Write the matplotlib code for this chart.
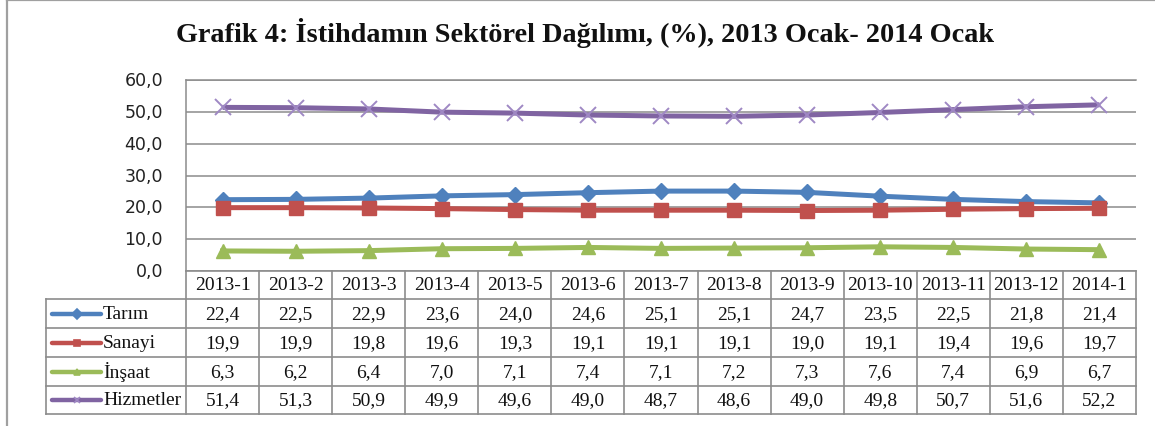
import matplotlib
matplotlib.use("Agg")
import matplotlib.pyplot as plt
from matplotlib.lines import Line2D
import matplotlib.transforms as mtransforms

categories = ["2013-1", "2013-2", "2013-3", "2013-4", "2013-5", "2013-6", "2013-7",
              "2013-8", "2013-9", "2013-10", "2013-11", "2013-12", "2014-1"]
series_names = ["Tarım", "Sanayi", "İnşaat", "Hizmetler"]
tarim = [22.4, 22.5, 22.9, 23.6, 24.0, 24.6, 25.1, 25.1, 24.7, 23.5, 22.5, 21.8, 21.4]
sanayi = [19.9, 19.9, 19.8, 19.6, 19.3, 19.1, 19.1, 19.1, 19.0, 19.1, 19.4, 19.6, 19.7]
insaat = [6.3, 6.2, 6.4, 7.0, 7.1, 7.4, 7.1, 7.2, 7.3, 7.6, 7.4, 6.9, 6.7]
hizmetler = [51.4, 51.3, 50.9, 49.9, 49.6, 49.0, 48.7, 48.6, 49.0, 49.8, 50.7, 51.6, 52.2]
y_ticks = [0, 10, 20, 30, 40, 50, 60]
title = "Grafik 4: İstihdamın Sektörel Dağılımı, (%), 2013 Ocak- 2014 Ocak"

series = [tarim, sanayi, insaat, hizmetler]
colors = ["#4F81BD", "#C0504D", "#9BBB59", "#8064A2"]
markers = ["D", "s", "^", "x"]
msizes = [8.5, 10, 10, 11]

W, H = 1155, 427
fig = plt.figure(figsize=(W / 100, H / 100), dpi=100)

def fx(x):
    return x / W

def fy(y):
    return 1 - y / H

# plot area
L, R, T, B = 186, 1136, 81, 272
ax = fig.add_axes([fx(L), fy(B), fx(R) - fx(L), fy(T) - fy(B)])
n = len(categories)
x = list(range(n))
ax.set_xlim(-0.5, n - 0.5)
ax.set_ylim(0, 60)
ax.set_yticks(y_ticks)
ax.set_yticklabels([])
ax.set_xticks([])
ax.tick_params(length=0)
grid_c = "#8C8C8C"
for v in y_ticks:
    ax.axhline(v, color=grid_c, lw=1.1, zorder=1)
for s in ["right", "bottom"]:
    ax.spines[s].set_visible(False)
ax.spines["left"].set_color(grid_c)
ax.spines["left"].set_linewidth(1.1)
ax.spines["top"].set_color(grid_c)
ax.spines["top"].set_linewidth(1.1)

for vals, c, m, ms in zip(series, colors, markers, msizes):
    if m == "x":
        ax.plot(x, vals, color=c, lw=3.6, zorder=3, solid_capstyle="butt")
        ax.plot(x, vals, ls="none", marker="x", ms=ms, mew=1.4, color="#9F88C4", zorder=4)
    else:
        ax.plot(x, vals, color=c, lw=3.6, marker=m, ms=ms, mec=c, mfc=c, zorder=3)

# y tick labels
for v in y_ticks:
    yp = ax.transData.transform((0, v))[1]
    fig.text(fx(163), yp / H, f"{v:.1f}".replace(".", ","), ha="right", va="center",
             fontsize=12.5, family="DejaVu Sans", color="#222222")

# title
fig.text(fx(585), fy(42), title, ha="center", va="baseline", fontsize=20.3,
         fontweight="bold", family="Liberation Serif", color="#111111")

# outer frame
fig.add_artist(Line2D([fx(7), fx(7)], [0, fy(1)], color="#A0A0A0", lw=1.6))
fig.add_artist(Line2D([fx(7), 1], [fy(1), fy(1)], color="#A0A0A0", lw=1.6))

# table
rows = [272, 300, 329, 358, 387, 415]
TL = 46
tc = "#8C8C8C"
tlw = 1.2
# horizontal lines
fig.add_artist(Line2D([fx(L), fx(R)], [fy(rows[0])] * 2, color=tc, lw=tlw))
for r in rows[1:]:
    fig.add_artist(Line2D([fx(TL), fx(R)], [fy(r)] * 2, color=tc, lw=tlw))
# vertical lines
blend = mtransforms.blended_transform_factory(ax.transData, fig.transFigure)
for i in range(n + 1):
    xd = i - 0.5
    fig.add_artist(Line2D([xd, xd], [fy(rows[0]), fy(rows[-1])], color=tc, lw=tlw,
                          transform=blend))
fig.add_artist(Line2D([fx(TL), fx(TL)], [fy(rows[1]), fy(rows[-1])], color=tc, lw=tlw))

tfont = dict(family="Liberation Serif", fontsize=14, color="#111111")
# header
yc = (rows[0] + rows[1]) / 2
for i, c in enumerate(categories):
    fig.text(i, fy(yc), c, ha="center", va="center", transform=blend, **tfont)
# body
for k, (name, vals, c, m) in enumerate(zip(series_names, series, colors, markers)):
    yc = (rows[k + 1] + rows[k + 2]) / 2
    for i, v in enumerate(vals):
        fig.text(i, fy(yc), f"{v:.1f}".replace(".", ","), ha="center", va="center",
                 transform=blend, **tfont)
    fig.add_artist(Line2D([fx(52), fx(101)], [fy(yc)] * 2, color=c, lw=3.2,
                          solid_capstyle="round"))
    mc = "#9F88C4" if m == "x" else c
    fig.add_artist(Line2D([fx(77)], [fy(yc)], marker=m, ms=5, color=mc, mec=mc,
                          mew=1.2, ls="none"))
    fig.text(fx(103), fy(yc), name, ha="left", va="center", **tfont)

fig.savefig("out.png", dpi=100)
